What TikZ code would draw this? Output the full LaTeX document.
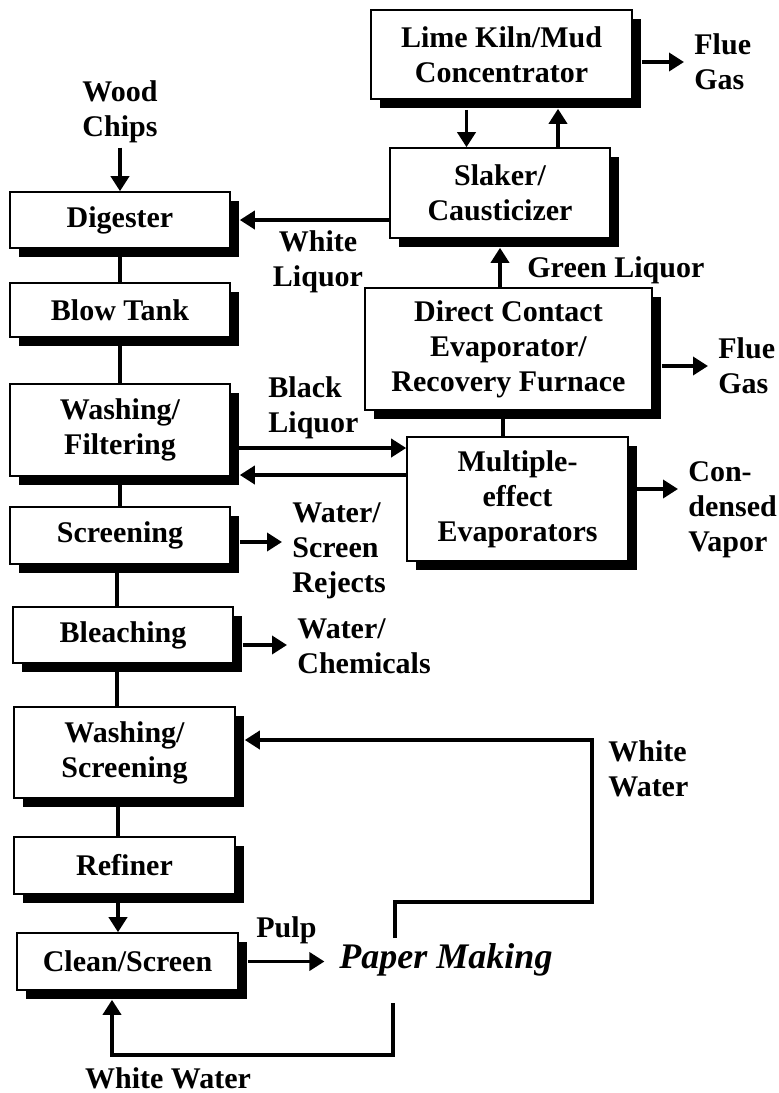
\documentclass[tikz,border=0pt]{standalone}
\usepackage{fontspec}
\setmainfont{Liberation Serif}
\usetikzlibrary{arrows.meta, positioning, shadows}
\tikzstyle{arrow} = [line width=1.8pt,-{Triangle[length=7.5pt,width=9pt]}]
\tikzstyle{link} = [line width=1.8pt]
\tikzstyle{unit} = [
rectangle, draw=black, line width=0.8pt, fill=white, inner sep=0pt,
text centered, align=center, font=\fontsize{15}{17.5}\selectfont\bfseries,
drop shadow={shadow xshift=4.5pt, shadow yshift=-4.5pt, fill=black, opacity=1}
]
\tikzstyle{stream} = [
align=left, inner sep=2pt, font=\fontsize{15}{17.5}\selectfont\bfseries
]

\begin{document}
\begin{tikzpicture}[x=0.5pt, y=-0.5pt]
			\useasboundingbox (0,0) rectangle (778,1093);
			% Pulp line
			\node (Digester) [unit, minimum width=110pt, minimum height=28pt] at (120,220) {Digester};
			\node (Blow_Tank) [unit, minimum width=110pt, minimum height=27pt] at (120,310) {Blow Tank};
			\node (Washing_Filtering) [unit, minimum width=110pt, minimum height=46pt] at (120,430) {Washing/\\Filtering};
			\node (Screening) [unit, minimum width=110pt, minimum height=28.5pt] at (120,535.5) {Screening};
			\node (Bleaching) [unit, minimum width=110pt, minimum height=28pt] at (123,635) {Bleaching};
			\node (Washing_Screening) [unit, minimum width=110.5pt, minimum height=45.5pt] at (124.5,752.5) {Washing/\\Screening};
			\node (Refiner) [unit, minimum width=110.5pt, minimum height=28.5pt] at (124.5,865.5) {Refiner};
			\node (Clean_Screen) [unit, minimum width=110.5pt, minimum height=28.5pt] at (127.5,961.5) {Clean/Screen};
			\node (Paper_Making) [font=\fontsize{18}{20}\selectfont\bfseries\itshape] at (446,960) {Paper Making};

			% Recovery loop
			\node (Lime_Kiln) [unit, minimum width=130.5pt, minimum height=44.5pt] at (501.5,54.5) {Lime Kiln/Mud\\Concentrator};
			\node (Slaker) [unit, minimum width=110pt, minimum height=45pt] at (500,193) {Slaker/\\Causticizer};
			\node (Recovery) [unit, minimum width=143.5pt, minimum height=61pt] at (508.5,349) {Direct Contact\\Evaporator/\\Recovery Furnace};
			\node (Multiple) [unit, minimum width=110.5pt, minimum height=62pt] at (517.5,499) {Multiple-\\effect\\Evaporators};

			% Streams
			\node (Wood_Chips) [stream, align=center] at (120,112) {Wood\\Chips};
			\node (White_Liquor) [stream, align=center] at (318,262) {White\\Liquor};
			\node (Flue_Gas_1) [stream, anchor=west] at (690,62) {Flue\\Gas};
			\node (Flue_Gas_2) [stream, anchor=west] at (714,366) {Flue\\Gas};
			\node (Green_Liquor) [stream, anchor=west] at (523,270) {Green Liquor};
			\node (Black_Liquor) [stream, anchor=west] at (264,408) {Black\\Liquor};
			\node (Vapor) [stream, anchor=west] at (684,510) {Con-\\densed\\Vapor};
			\node (Rejects) [stream, anchor=west] at (288,551) {Water/\\Screen\\Rejects};
			\node (Chemicals) [stream, anchor=west] at (293,646) {Water/\\Chemicals};
			\node (White_Water_1) [stream, anchor=west] at (604,769) {White\\Water};
			\node (Pulp) [stream, anchor=west] at (252,930) {Pulp};
			\node (White_Water_2) [stream] at (168,1078) {White Water};
			\coordinate (PM_top) at (395,938);
			\coordinate (PM_bottom) at (393,1003);
			\coordinate (Loop_top) at (592,740);
			\coordinate (Loop_bottom) at (393,1055);

			% Connections
			\draw [arrow] (Wood_Chips) -- (Digester);
			\draw [link] (Digester.south) -- (Digester.south |- Blow_Tank.north);
			\draw [link] (Blow_Tank.south) -- (Blow_Tank.south |- Washing_Filtering.north);
			\draw [link] (Washing_Filtering.south) -- (Washing_Filtering.south |- Screening.north);
			\draw [link] ([xshift=-1.5pt]Screening.south) -- ([xshift=-1.5pt]Screening.south |- Bleaching.north);
			\draw [link] ([xshift=-3pt]Bleaching.south) -- ([xshift=-3pt]Bleaching.south |- Washing_Screening.north);
			\draw [link] ([xshift=-3.25pt]Washing_Screening.south) -- ([xshift=-3.25pt]Washing_Screening.south |- Refiner.north);
			\draw [arrow] ([xshift=-3.25pt]Refiner.south) -- ([xshift=-3.25pt]Refiner.south |- Clean_Screen.north);
			\draw [arrow, shorten <=4.5pt, shorten >=4pt] (Clean_Screen.east) -- (Paper_Making.west |- Clean_Screen.east);
			\draw [arrow, shorten >=4.5pt] (PM_top) -- ++(0,-36) -| (Loop_top) -- ([yshift=6.25pt]Washing_Screening.east);
			\draw [arrow, shorten >=4.5pt] (PM_bottom) -- (Loop_bottom) -| ([xshift=-7.75pt]Clean_Screen.south);

			% Final Connections
			\draw [arrow, shorten <=4.5pt, shorten >=3pt] ([yshift=-3.25pt]Screening.east) -- ([yshift=-3.25pt]Screening.east -| Rejects.west);
			\draw [arrow, shorten <=4.5pt, shorten >=3pt] ([yshift=-5pt]Bleaching.east) -- ([yshift=-5pt]Bleaching.east -| Chemicals.west);
			\draw [arrow] ([yshift=-9pt]Washing_Filtering.east) -- ([yshift=-9pt]Washing_Filtering.east -| Multiple.west);
			\draw [arrow, shorten >=4.5pt] ([yshift=12pt]Multiple.west) -- ([yshift=12pt]Multiple.west -| Washing_Filtering.east);
			\draw [arrow, shorten >=3pt] ([yshift=5pt]Multiple.east) -- ([yshift=5pt]Multiple.east -| Vapor.west);
			\draw [link] ([xshift=-7.25pt]Multiple.north) -- ([xshift=-7.25pt]Multiple.north |- Recovery.south);
			\draw [arrow, shorten <=4.5pt, shorten >=3pt] (Recovery.east |- Flue_Gas_2) -- (Flue_Gas_2.west);
			\draw [arrow, shorten >=4.5pt] (Slaker.south |- Recovery.north) -- (Slaker.south);
			\draw [arrow, shorten >=4.5pt] (Slaker.west |- Digester.east) -- (Digester.east);
			\draw [arrow, shorten <=5pt] ([xshift=-17.5pt]Lime_Kiln.south) -- ([xshift=-17.5pt]Lime_Kiln.south |- Slaker.north);
			\draw [arrow, shorten >=4.5pt] ([xshift=29pt]Slaker.north) -- ([xshift=29pt]Slaker.north |- Lime_Kiln.south);
			\draw [arrow, shorten <=4.5pt, shorten >=3pt] (Lime_Kiln.east |- Flue_Gas_1) -- (Flue_Gas_1.west);

		\end{tikzpicture}
\end{document}
